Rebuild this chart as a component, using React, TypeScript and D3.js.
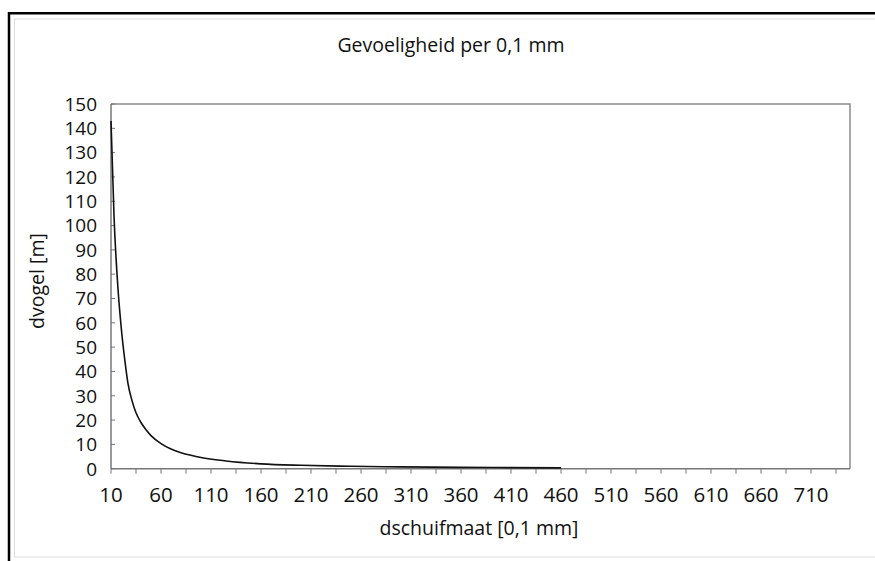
// App.tsx
import React, { useEffect, useRef } from "react";
import * as d3 from "d3";

// values
const dschuifmaat = [10, 13, 17, 20, 24, 27, 31, 35, 40, 45, 50, 60, 70, 80, 90, 100, 125, 160, 200, 250, 300, 360, 460];
const dvogel = [143, 104, 74, 59, 44, 35, 28, 23, 19, 16, 13.6, 10.3, 8.1, 6.6, 5.5, 4.6, 3.2, 2.0, 1.4, 1.0, 0.75, 0.55, 0.35];
const xTicks = d3.range(10, 736, 25); // minor ticks every 25
const xLabels = [10, 60, 110, 160, 210, 260, 310, 360, 410, 460, 510, 560, 610, 660, 710];
const yLabels = [0, 10, 20, 30, 40, 50, 60, 70, 80, 90, 100, 110, 120, 130, 140, 150];

const FONT = "'Open Sans', 'Noto Sans', sans-serif";

const App = () => {
  const svgRef = useRef<SVGSVGElement | null>(null);

  useEffect(() => {
    const width = 875;
    const height = 561;
    const svg = d3.select(svgRef.current);
    svg.selectAll("*").remove();
    svg.attr("width", width).attr("height", height);

    const left = 111;
    const right = 850;
    const top = 104;
    const bottom = 468.7;

    const x = d3.scaleLinear().domain([10, 749]).range([left, right]);
    const y = d3.scaleLinear().domain([0, 150]).range([bottom, top]);

    svg.append("rect").attr("width", width).attr("height", height).attr("fill", "white");

    // outer frame
    svg
      .append("rect")
      .attr("x", 14.5)
      .attr("y", 19)
      .attr("width", 900)
      .attr("height", 538)
      .attr("fill", "none")
      .attr("stroke", "#dcdcdc")
      .attr("stroke-width", 1);
    svg
      .append("path")
      .attr("d", `M9,${height}V13.3H${width}`)
      .attr("fill", "none")
      .attr("stroke", "#000")
      .attr("stroke-width", 2.5);

    // plot box: top + right
    svg
      .append("path")
      .attr("d", `M${left},${top}H${right}V${bottom}`)
      .attr("fill", "none")
      .attr("stroke", "#8c8c8c")
      .attr("stroke-width", 1.5);

    // y axis
    const yAxis = svg.append("g").attr("transform", `translate(${left},0)`);
    yAxis
      .append("line")
      .attr("y1", top)
      .attr("y2", bottom)
      .attr("stroke", "#777")
      .attr("stroke-width", 1.5);
    yAxis
      .selectAll("line.tick")
      .data(yLabels)
      .join("line")
      .attr("class", "tick")
      .attr("x1", 0)
      .attr("x2", 4)
      .attr("y1", (d) => y(d))
      .attr("y2", (d) => y(d))
      .attr("stroke", "#777")
      .attr("stroke-width", 1);
    yAxis
      .selectAll("text")
      .data(yLabels)
      .join("text")
      .attr("x", -14)
      .attr("y", (d) => y(d))
      .attr("dy", "0.36em")
      .attr("text-anchor", "end")
      .style("font-family", FONT)
      .style("font-size", "19px")
      .style("fill", "#111")
      .text((d) => d);

    // x axis
    const xAxis = svg.append("g").attr("transform", `translate(0,${bottom})`);
    xAxis
      .append("line")
      .attr("x1", left)
      .attr("x2", right)
      .attr("stroke", "#777")
      .attr("stroke-width", 1.5);
    xAxis
      .selectAll("line.tick")
      .data(xTicks)
      .join("line")
      .attr("class", "tick")
      .attr("x1", (d) => x(d))
      .attr("x2", (d) => x(d))
      .attr("y1", 0)
      .attr("y2", 5)
      .attr("stroke", "#777")
      .attr("stroke-width", 1);
    xAxis
      .selectAll("text")
      .data(xLabels)
      .join("text")
      .attr("x", (d) => x(d))
      .attr("y", 33.5)
      .attr("text-anchor", "middle")
      .style("font-family", FONT)
      .style("font-size", "20.5px")
      .style("fill", "#111")
      .text((d) => d);

    // curve
    const line = d3
      .line<number>()
      .x((_, i) => x(dschuifmaat[i]))
      .y((d) => y(d))
      .curve(d3.curveMonotoneX);
    svg
      .append("path")
      .datum(dvogel)
      .attr("d", line)
      .attr("fill", "none")
      .attr("stroke", "#111")
      .attr("stroke-width", 1.6);

    // titles
    svg
      .append("text")
      .attr("x", 451)
      .attr("y", 52)
      .attr("text-anchor", "middle")
      .style("font-family", FONT)
      .style("font-size", "19.5px")
      .style("fill", "#111")
      .text("Gevoeligheid per 0,1 mm");

    svg
      .append("text")
      .attr("x", 479)
      .attr("y", 535)
      .attr("text-anchor", "middle")
      .style("font-family", FONT)
      .style("font-size", "19.5px")
      .style("fill", "#111")
      .text("dschuifmaat [0,1 mm]");

    svg
      .append("text")
      .attr("transform", `translate(44,281) rotate(-90)`)
      .attr("text-anchor", "middle")
      .style("font-family", FONT)
      .style("font-size", "19.5px")
      .style("fill", "#111")
      .text("dvogel [m]");
  }, []);

  return (
    <div style={{ position: "absolute", left: 0, top: 0 }}>
      <svg ref={svgRef} style={{ display: "block" }}></svg>
    </div>
  );
};

export default App;
